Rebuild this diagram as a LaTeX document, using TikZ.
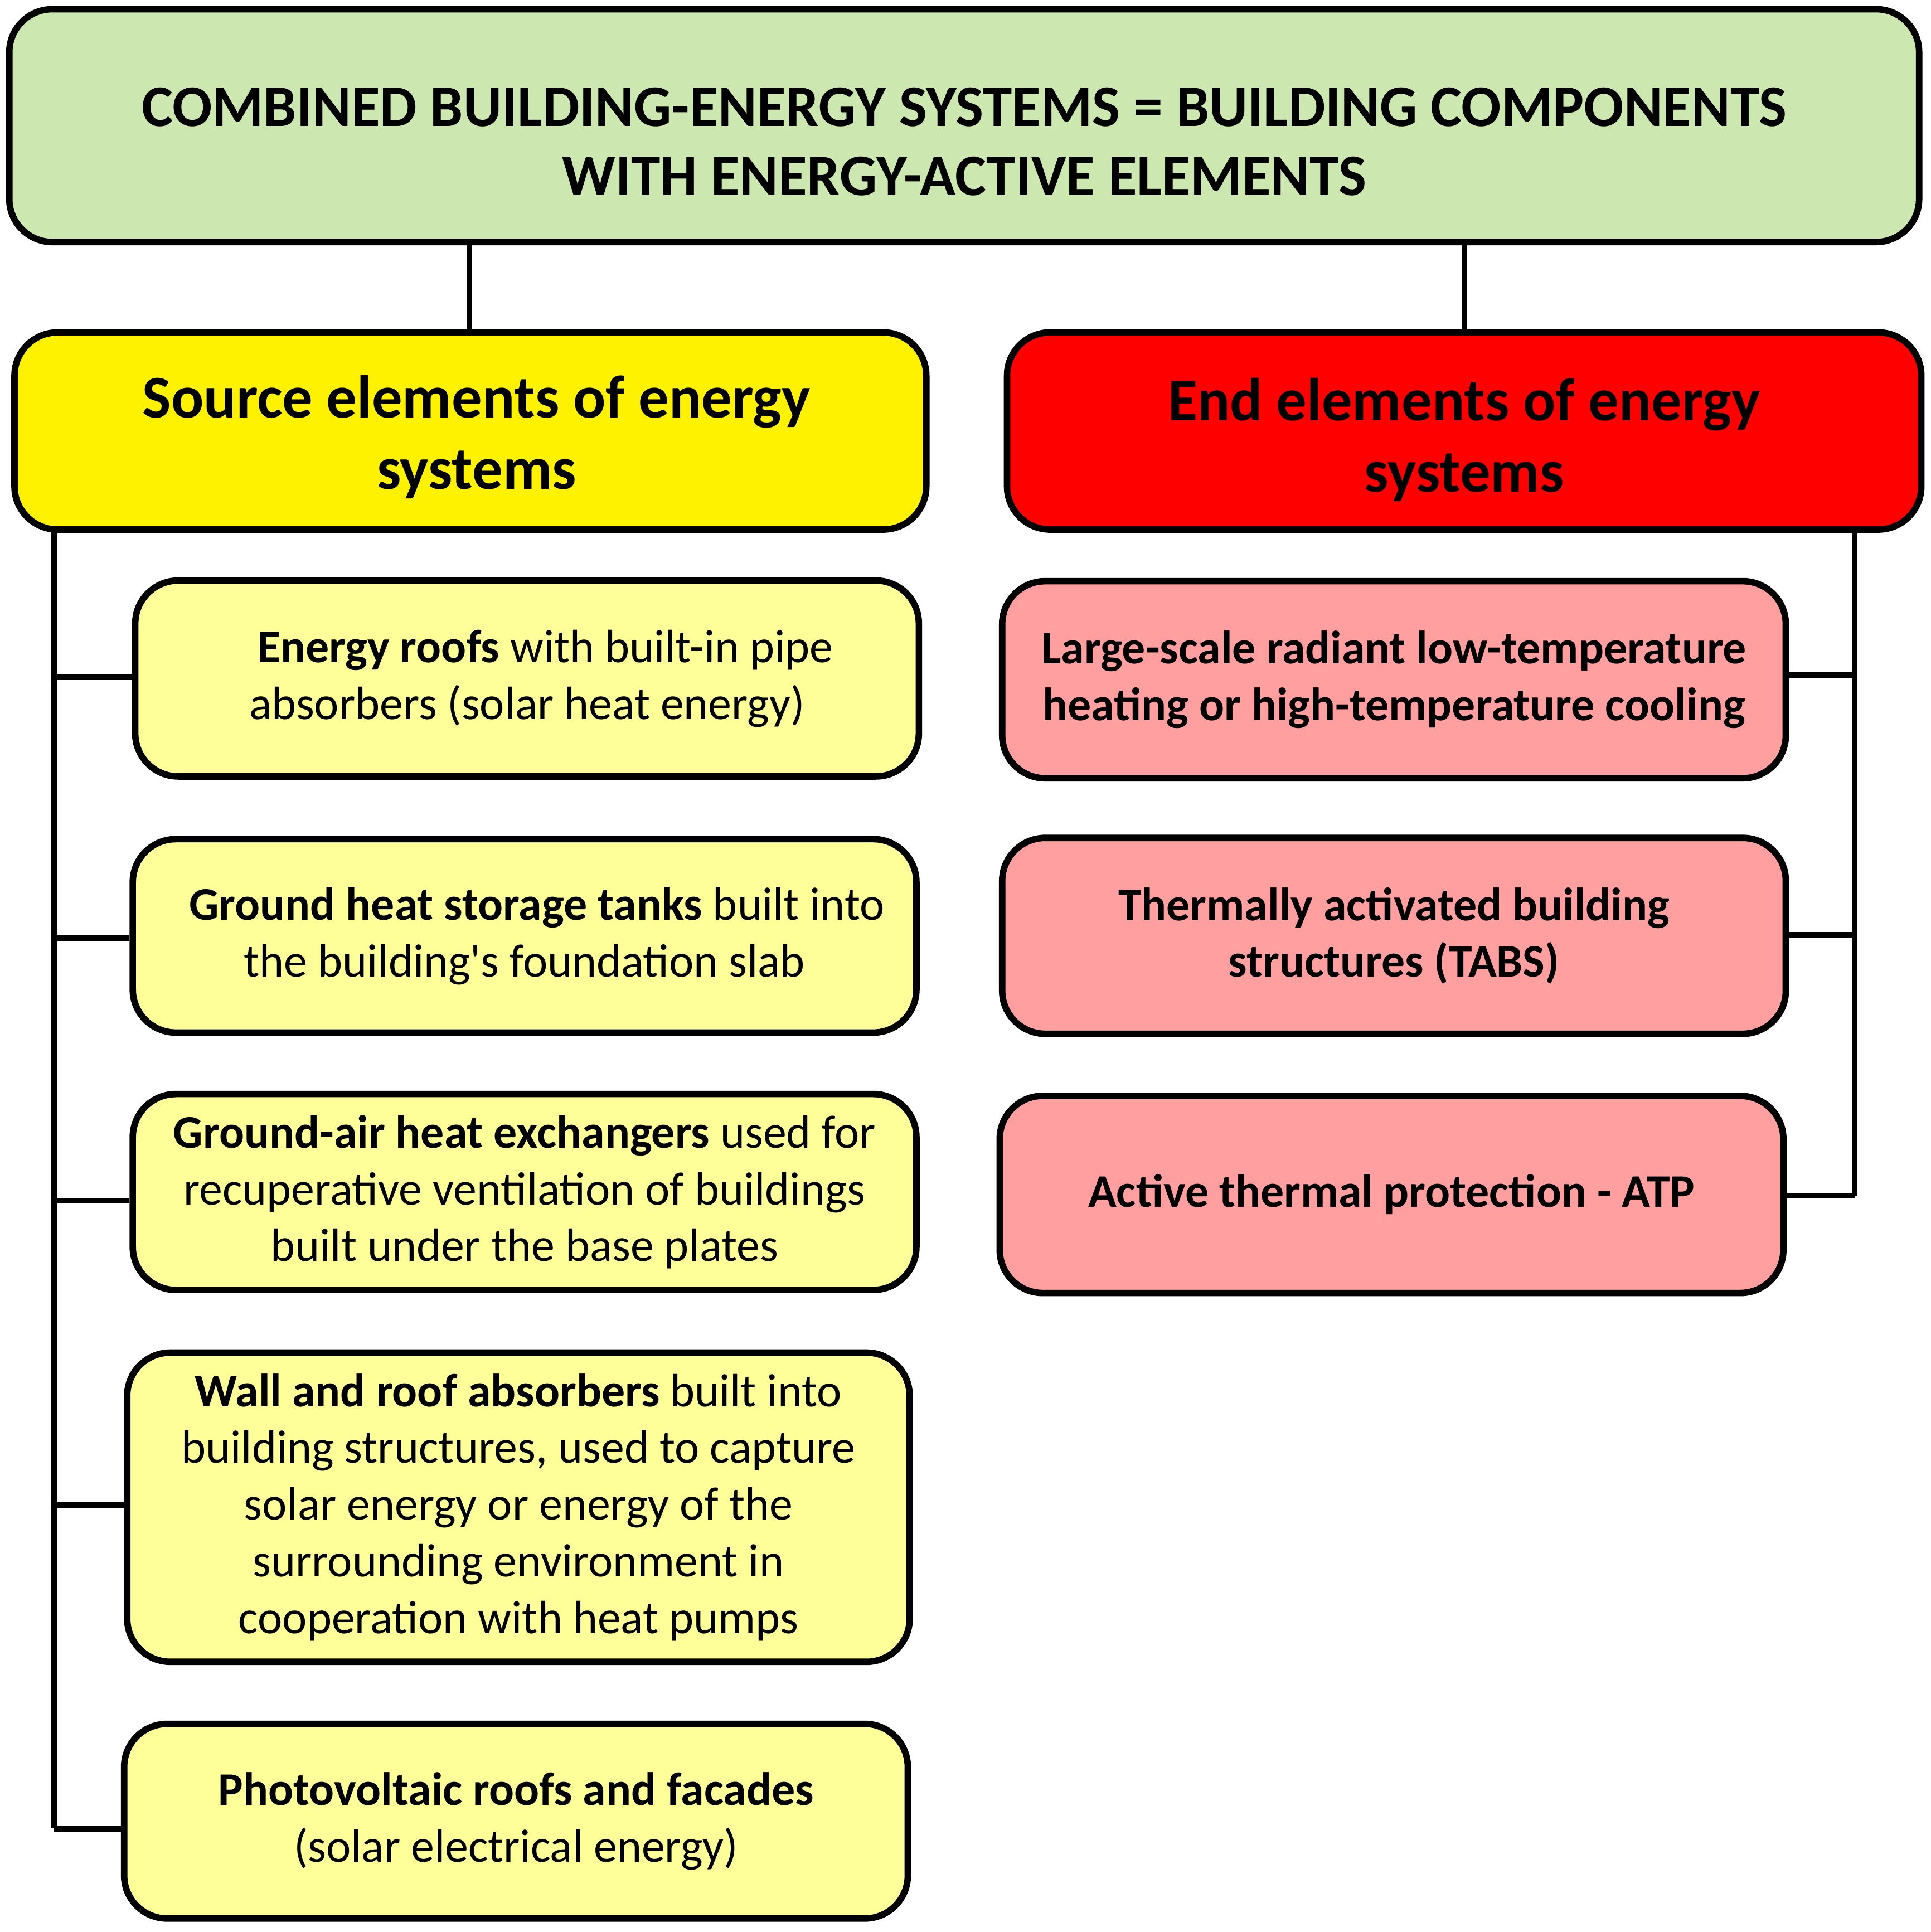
\documentclass[tikz,border=0pt]{standalone}
\usepackage{fontspec}
\setmainfont{Carlito}
\newfontfamily\plainq{Carlito}
\begin{document}
\begin{tikzpicture}[x=0.01cm,y=-0.01cm,
  box/.style={draw=black,line width=1.5pt,rounded corners=0.35cm,align=center,inner sep=0pt},
  src/.style={box,fill=yellowlight,font=\fontsize{10.8}{13.1}\selectfont},
  endb/.style={box,fill=redlight,font=\fontsize{10.8}{13.1}\selectfont\bfseries},
  ln/.style={line width=1.3pt}]
\definecolor{greenlight}{HTML}{CCE8B0}
\definecolor{yellowlight}{HTML}{FFFF99}
\definecolor{redlight}{HTML}{FF9F9F}
\useasboundingbox (0,0) rectangle (1568,1569);
\node[box,fill=greenlight,minimum width=15.5cm,minimum height=1.89cm] (top) at (783,102) {};
\node[font=\fontsize{13.6}{16}\selectfont\bfseries,align=center] (toptext) at (783,115) {COMBINED BUILDING-ENERGY SYSTEMS = BUILDING COMPONENTS\\WITH ENERGY-ACTIVE ELEMENTS};
\node[box,fill=yellow,minimum width=7.4cm,minimum height=1.6cm] (src) at (382,350) {};
\node[font=\fontsize{14}{16.5}\selectfont\bfseries,align=center] (srctext) at (387,355) {Source elements of energy\\systems};
\node[box,fill=red,minimum width=7.42cm,minimum height=1.6cm] (end) at (1189,350) {};
\node[font=\fontsize{14}{16.5}\selectfont\bfseries,align=center] (endtext) at (1189,357) {End elements of energy\\systems};
\node[src,minimum width=6.36cm,minimum height=1.59cm] (s1) at (428,551) {\hspace*{0.3cm}\textbf{Energy roofs} with built-in pipe\\absorbers (solar heat energy)};
\node[src,minimum width=6.36cm,minimum height=1.57cm] (s2) at (426,760) {\hspace*{0.2cm}\textbf{Ground heat storage tanks} built into\\the building{\plainq'}s foundation slab};
\node[src,minimum width=6.36cm,minimum height=1.59cm] (s3) at (426,968) {\textbf{Ground-air heat exchangers} used for\\recuperative ventilation of buildings\\built under the base plates};
\node[src,minimum width=6.35cm,minimum height=2.51cm] (s4) at (421,1224) {\textbf{Wall and roof absorbers} built into\\building structures, used to capture\\solar energy or energy of the\\surrounding environment in\\cooperation with heat pumps};
\node[src,minimum width=6.36cm,minimum height=1.58cm] (s5) at (419,1479) {\textbf{Photovoltaic roofs and facades}\\(solar electrical energy)};
\node[endb,minimum width=6.36cm,minimum height=1.6cm] (e1) at (1132,552) {Large-scale radiant low-temperature\\heating or high-temperature cooling};
\node[endb,minimum width=6.36cm,minimum height=1.59cm] (e2) at (1132,760) {Thermally activated building\\structures (TABS)};
\node[endb,minimum width=6.36cm,minimum height=1.6cm] (e3) at (1130,970) {Active thermal protection - ATP};
\coordinate (lt) at (44,430);
\coordinate (lb) at (44,1485);
\coordinate (rt) at (1506,430);
\coordinate (rb) at (1506,971);
\draw[ln] (381,197) -- (381,270);
\draw[ln] (1189,197) -- (1189,270);
\draw[ln] (lt) -- (lb);
\draw[ln] (rt) -- (rb);
\draw[ln] (44,550) -- (s1.west|-44,550);
\draw[ln] (44,762) -- (s2.west|-44,762);
\draw[ln] (44,975) -- (s3.west|-44,975);
\draw[ln] (44,1222) -- (s4.west|-44,1222);
\draw[ln] (lb) -- (s5.west|-lb);
\draw[ln] (1506,548) -- (e1.east|-1506,548);
\draw[ln] (1506,759) -- (e2.east|-1506,759);
\draw[ln] (rb) -- (e3.east|-rb);
\end{tikzpicture}
\end{document}
